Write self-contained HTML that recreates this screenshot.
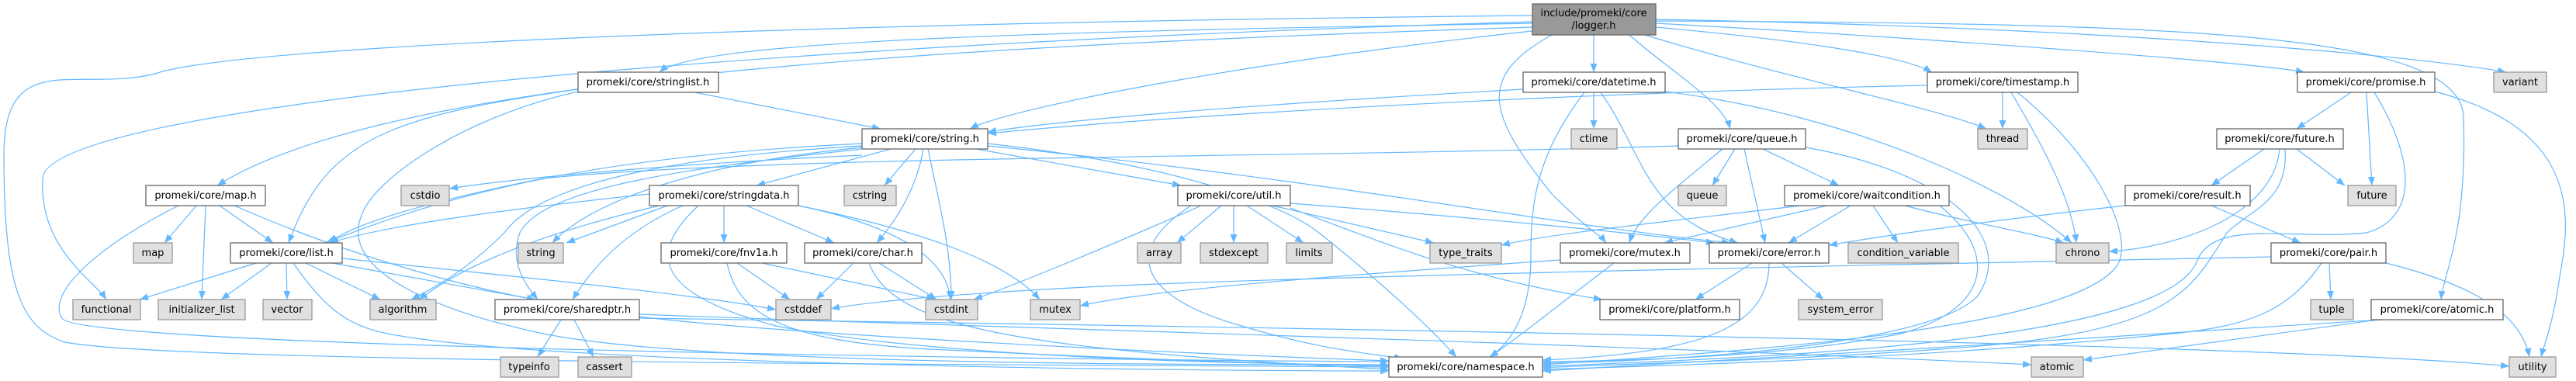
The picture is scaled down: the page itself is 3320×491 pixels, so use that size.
<!DOCTYPE html>
<html><head><meta charset="utf-8"><style>
html,body{margin:0;padding:0;background:#fff}
svg{display:block}
text{font-family:"DejaVu Sans","Liberation Sans",sans-serif;font-size:13px;fill:#000}
.n{fill:#fff;stroke:#666;stroke-width:1.3}
.g{fill:#e0e0e0;stroke:#999;stroke-width:1.3}
.r{fill:#999;stroke:#666;stroke-width:1.3}
path.e{fill:none;stroke:#63b8ff;stroke-width:1.2;marker-end:url(#a)}
</style></head><body>
<svg width="3320" height="491" viewBox="0 0 3320 491" xmlns="http://www.w3.org/2000/svg">
<defs><marker id="a" markerUnits="userSpaceOnUse" markerWidth="12" markerHeight="10" refX="11" refY="4.5" orient="auto"><path d="M0,0 L11,4.5 L0,9 z" fill="#63b8ff"/></marker></defs>
<g>
<path class="e" d="M2054,45 L2054,93"/>
<path class="e" d="M1975,30 C1400,40 900,50 850,93"/>
<path class="e" d="M1975,35 C1200,60 500,100 280,239"/>
<path class="e" d="M1975,28 C900,60 60,140 55,230 C50,320 120,360 137,386"/>
<path class="e" d="M1975,20 C1000,30 300,60 200,95 C100,120 5,60 5,200 C5,380 30,420 80,440 C200,470 1500,470 1790,473"/>
<path class="e" d="M1975,40 C1600,80 1300,140 1250,166"/>
<path class="e" d="M2100,45 C2150,90 2220,130 2230,166"/>
<path class="e" d="M2000,45 C1900,100 1920,150 2000,250 C2050,300 2060,300 2070,313"/>
<path class="e" d="M2120,45 C2300,100 2500,140 2560,166"/>
<path class="e" d="M2134,35 C2300,50 2450,70 2490,93"/>
<path class="e" d="M2134,30 C2500,50 2900,80 2970,93"/>
<path class="e" d="M2134,25 C2700,35 3100,70 3230,93"/>
<path class="e" d="M2134,27 C2800,30 3170,40 3175,150 C3180,300 3150,350 3146,386"/>

<path class="e" d="M895,119 L1135,166"/>
<path class="e" d="M745,115 C500,150 420,180 372,313"/>
<path class="e" d="M745,118 C600,150 480,230 465,280 C440,350 560,400 700,430 C900,470 1500,470 1790,470"/>

<path class="e" d="M253,265 L212,313"/>
<path class="e" d="M265,265 L260,386"/>
<path class="e" d="M283,265 L352,313"/>
<path class="e" d="M302,265 C450,330 600,370 690,386"/>
<path class="e" d="M230,265 C120,320 60,380 80,410 C100,450 1500,465 1790,466"/>

<path class="e" d="M330,339 L180,386"/>
<path class="e" d="M350,339 L285,386"/>
<path class="e" d="M369,339 L370,386"/>
<path class="e" d="M394,339 L490,386"/>
<path class="e" d="M428,339 L690,386"/>
<path class="e" d="M441,333 C700,360 900,380 1000,399"/>
<path class="e" d="M378,339 C420,400 450,420 500,430 C700,470 1500,478 1790,478"/>

<path class="e" d="M1111,200 C900,210 700,225 579,243"/>
<path class="e" d="M1111,185 C800,200 600,240 420,313"/>
<path class="e" d="M1111,190 C900,210 760,260 712,313"/>
<path class="e" d="M1111,188 C900,200 700,230 650,300 C600,350 560,370 530,386"/>
<path class="e" d="M1111,192 C900,215 700,240 670,300 C655,340 680,370 693,386"/>
<path class="e" d="M1148,192 L975,239"/>
<path class="e" d="M1180,192 L1140,239"/>
<path class="e" d="M1190,192 C1180,250 1150,290 1130,313"/>
<path class="e" d="M1196,192 C1210,260 1226,320 1226,386"/>
<path class="e" d="M1258,192 L1522,239"/>
<path class="e" d="M1273,185 C1500,210 1650,260 1700,300 C1800,380 1850,430 1877,460"/>
<path class="e" d="M1273,188 C1700,230 2000,290 2230,313"/>

<path class="e" d="M837,250 C650,270 500,290 425,313"/>
<path class="e" d="M860,265 L730,313"/>
<path class="e" d="M880,265 C800,300 760,350 738,386"/>
<path class="e" d="M933,265 L933,313"/>
<path class="e" d="M962,265 L1075,313"/>
<path class="e" d="M1029,265 C1150,290 1220,330 1225,386"/>
<path class="e" d="M1029,265 C1200,300 1300,340 1340,386"/>
<path class="e" d="M900,265 C830,330 850,380 1000,420 C1200,460 1600,470 1790,470"/>
<path class="e" d="M850,265 C700,300 600,340 540,386"/>

<path class="e" d="M950,339 L1018,386"/>
<path class="e" d="M982,339 L1205,386"/>
<path class="e" d="M937,339 C950,400 1000,440 1200,450 C1500,465 1700,470 1790,472"/>

<path class="e" d="M1100,339 L1052,386"/>
<path class="e" d="M1133,339 L1207,386"/>
<path class="e" d="M1120,339 C1150,420 1300,450 1790,476"/>

<path class="e" d="M723,412 L693,460"/>
<path class="e" d="M740,412 L765,460"/>
<path class="e" d="M824,405 C1200,420 2000,440 2618,470"/>
<path class="e" d="M824,408 C1000,430 1500,455 1790,465"/>
<path class="e" d="M824,410 C1500,420 2900,440 3234,472"/>

<path class="e" d="M1574,265 L1517,313"/>
<path class="e" d="M1590,265 L1590,313"/>
<path class="e" d="M1607,265 L1680,313"/>
<path class="e" d="M1640,265 L1848,313"/>
<path class="e" d="M1548,265 C1400,330 1300,370 1255,386"/>
<path class="e" d="M1535,265 C1450,320 1460,380 1600,420 C1700,450 1760,455 1808,462"/>
<path class="e" d="M1663,268 C1800,320 1900,360 2065,386"/>
<path class="e" d="M1663,262 C1900,280 2100,300 2210,313"/>

<path class="e" d="M1963,115 C1700,130 1400,150 1273,170"/>
<path class="e" d="M2054,119 L2054,166"/>
<path class="e" d="M2042,119 C1980,200 1973,260 1973,330 C1973,400 1950,440 1920,460"/>
<path class="e" d="M2063,119 C2120,200 2120,280 2240,313"/>
<path class="e" d="M2146,118 C2400,150 2600,250 2670,313"/>

<path class="e" d="M2163,188 C1600,205 1000,200 700,230 C550,260 450,290 425,313"/>
<path class="e" d="M2236,192 L2207,239"/>
<path class="e" d="M2220,192 C2150,250 2110,280 2100,313"/>
<path class="e" d="M2248,192 L2275,313"/>
<path class="e" d="M2272,192 L2370,239"/>
<path class="e" d="M2327,190 C2500,220 2600,300 2550,380 C2500,440 2200,465 1988,468"/>

<path class="e" d="M2320,265 C2200,280 2000,300 1935,316"/>
<path class="e" d="M2355,265 L2145,313"/>
<path class="e" d="M2385,265 L2305,313"/>
<path class="e" d="M2414,265 L2446,313"/>
<path class="e" d="M2455,265 C2550,290 2620,300 2660,313"/>
<path class="e" d="M2500,265 C2580,330 2560,400 2450,430 C2300,460 2100,465 1988,466"/>

<path class="e" d="M2011,335 C1800,350 1500,370 1392,394"/>
<path class="e" d="M2080,339 C2000,400 1950,440 1920,460"/>

<path class="e" d="M2258,339 L2185,386"/>
<path class="e" d="M2296,339 L2350,386"/>
<path class="e" d="M2280,339 C2280,420 2200,455 1988,464"/>

<path class="e" d="M2484,110 C2000,120 1500,150 1273,172"/>
<path class="e" d="M2581,119 L2581,166"/>
<path class="e" d="M2592,119 C2640,200 2670,260 2676,313"/>
<path class="e" d="M2600,119 C2700,200 2750,300 2730,340 C2680,420 2300,450 1988,470"/>

<path class="e" d="M3030,119 L2960,166"/>
<path class="e" d="M3050,119 L3057,239"/>
<path class="e" d="M3060,119 C3110,200 3120,280 3050,300 C2950,310 2850,280 2830,340 C2780,440 2300,460 1988,472"/>
<path class="e" d="M3138,118 C3300,160 3320,250 3300,350 C3290,420 3280,440 3275,460"/>

<path class="e" d="M2918,192 L2850,239"/>
<path class="e" d="M2960,192 L3022,239"/>
<path class="e" d="M2938,192 C2930,280 2800,320 2718,324"/>
<path class="e" d="M2945,192 C2950,260 2900,270 2870,300 C2820,380 2800,430 2500,450 C2300,465 2100,468 1988,474"/>

<path class="e" d="M2739,265 C2600,280 2450,300 2357,316"/>
<path class="e" d="M2850,265 L2965,313"/>

<path class="e" d="M2927,331 C2500,340 1700,355 1400,370 C1200,380 1100,392 1071,398"/>
<path class="e" d="M3002,339 L3004,386"/>
<path class="e" d="M3075,339 C3200,370 3250,410 3260,460"/>
<path class="e" d="M2992,339 C2950,400 2900,420 2800,430 C2500,460 2200,470 1988,476"/>

<path class="e" d="M3065,412 L2685,464"/>
<path class="e" d="M3070,412 C2800,430 2300,460 1988,478"/>
</g>
<g>
<rect class="r" x="1975" y="5" width="159" height="40"/><text x="2054" y="21" text-anchor="middle">include/promeki/core</text><text x="2054" y="37" text-anchor="middle">/logger.h</text>
<rect class="n" x="745" y="93" width="181" height="26"/><text x="835" y="110" text-anchor="middle">promeki/core/stringlist.h</text>
<rect class="n" x="1963" y="93" width="183" height="26"/><text x="2054" y="110" text-anchor="middle">promeki/core/datetime.h</text>
<rect class="n" x="2484" y="93" width="194" height="26"/><text x="2581" y="110" text-anchor="middle">promeki/core/timestamp.h</text>
<rect class="n" x="2961" y="93" width="177" height="26"/><text x="3049" y="110" text-anchor="middle">promeki/core/promise.h</text>
<rect class="g" x="3214" y="93" width="68" height="26"/><text x="3248" y="110" text-anchor="middle">variant</text>
<rect class="n" x="1111" y="166" width="162" height="26"/><text x="1192" y="183" text-anchor="middle">promeki/core/string.h</text>
<rect class="g" x="2025" y="166" width="59" height="26"/><text x="2054" y="183" text-anchor="middle">ctime</text>
<rect class="n" x="2163" y="166" width="164" height="26"/><text x="2245" y="183" text-anchor="middle">promeki/core/queue.h</text>
<rect class="g" x="2549" y="166" width="64" height="26"/><text x="2581" y="183" text-anchor="middle">thread</text>
<rect class="n" x="2857" y="166" width="163" height="26"/><text x="2938" y="183" text-anchor="middle">promeki/core/future.h</text>
<rect class="n" x="188" y="239" width="154" height="26"/><text x="265" y="256" text-anchor="middle">promeki/core/map.h</text>
<rect class="g" x="517" y="239" width="62" height="26"/><text x="548" y="256" text-anchor="middle">cstdio</text>
<rect class="n" x="837" y="239" width="192" height="26"/><text x="933" y="256" text-anchor="middle">promeki/core/stringdata.h</text>
<rect class="g" x="1088" y="239" width="67" height="26"/><text x="1121" y="256" text-anchor="middle">cstring</text>
<rect class="n" x="1518" y="239" width="145" height="26"/><text x="1590" y="256" text-anchor="middle">promeki/core/util.h</text>
<rect class="g" x="2163" y="239" width="62" height="26"/><text x="2194" y="256" text-anchor="middle">queue</text>
<rect class="n" x="2300" y="239" width="212" height="26"/><text x="2406" y="256" text-anchor="middle">promeki/core/waitcondition.h</text>
<rect class="n" x="2739" y="239" width="161" height="26"/><text x="2819" y="256" text-anchor="middle">promeki/core/result.h</text>
<rect class="g" x="3026" y="239" width="62" height="26"/><text x="3057" y="256" text-anchor="middle">future</text>
<rect class="g" x="172" y="313" width="50" height="26"/><text x="197" y="330" text-anchor="middle">map</text>
<rect class="n" x="297" y="313" width="144" height="26"/><text x="369" y="330" text-anchor="middle">promeki/core/list.h</text>
<rect class="g" x="668" y="313" width="58" height="26"/><text x="697" y="330" text-anchor="middle">string</text>
<rect class="n" x="852" y="313" width="162" height="26"/><text x="933" y="330" text-anchor="middle">promeki/core/fnv1a.h</text>
<rect class="n" x="1037" y="313" width="151" height="26"/><text x="1112" y="330" text-anchor="middle">promeki/core/char.h</text>
<rect class="g" x="1466" y="313" width="56" height="26"/><text x="1494" y="330" text-anchor="middle">array</text>
<rect class="g" x="1547" y="313" width="87" height="26"/><text x="1590" y="330" text-anchor="middle">stdexcept</text>
<rect class="g" x="1658" y="313" width="59" height="26"/><text x="1687" y="330" text-anchor="middle">limits</text>
<rect class="g" x="1843" y="313" width="92" height="26"/><text x="1889" y="330" text-anchor="middle">type_traits</text>
<rect class="n" x="2011" y="313" width="167" height="26"/><text x="2094" y="330" text-anchor="middle">promeki/core/mutex.h</text>
<rect class="n" x="2203" y="313" width="154" height="26"/><text x="2280" y="330" text-anchor="middle">promeki/core/error.h</text>
<rect class="g" x="2382" y="313" width="142" height="26"/><text x="2453" y="330" text-anchor="middle">condition_variable</text>
<rect class="g" x="2650" y="313" width="68" height="26"/><text x="2684" y="330" text-anchor="middle">chrono</text>
<rect class="n" x="2927" y="313" width="148" height="26"/><text x="3001" y="330" text-anchor="middle">promeki/core/pair.h</text>
<rect class="g" x="94" y="386" width="87" height="26"/><text x="137" y="403" text-anchor="middle">functional</text>
<rect class="g" x="204" y="386" width="112" height="26"/><text x="260" y="403" text-anchor="middle">initializer_list</text>
<rect class="g" x="339" y="386" width="63" height="26"/><text x="370" y="403" text-anchor="middle">vector</text>
<rect class="g" x="477" y="386" width="85" height="26"/><text x="519" y="403" text-anchor="middle">algorithm</text>
<rect class="n" x="638" y="386" width="186" height="26"/><text x="731" y="403" text-anchor="middle">promeki/core/sharedptr.h</text>
<rect class="g" x="1000" y="386" width="71" height="26"/><text x="1035" y="403" text-anchor="middle">cstddef</text>
<rect class="g" x="1193" y="386" width="67" height="26"/><text x="1226" y="403" text-anchor="middle">cstdint</text>
<rect class="g" x="1328" y="386" width="64" height="26"/><text x="1360" y="403" text-anchor="middle">mutex</text>
<rect class="n" x="2062" y="386" width="180" height="26"/><text x="2152" y="403" text-anchor="middle">promeki/core/platform.h</text>
<rect class="g" x="2318" y="386" width="108" height="26"/><text x="2372" y="403" text-anchor="middle">system_error</text>
<rect class="g" x="2978" y="386" width="55" height="26"/><text x="3005" y="403" text-anchor="middle">tuple</text>
<rect class="n" x="3056" y="386" width="170" height="26"/><text x="3141" y="403" text-anchor="middle">promeki/core/atomic.h</text>
<rect class="g" x="645" y="460" width="75" height="26"/><text x="682" y="477" text-anchor="middle">typeinfo</text>
<rect class="g" x="745" y="460" width="69" height="26"/><text x="779" y="477" text-anchor="middle">cassert</text>
<rect class="n" x="1790" y="460" width="198" height="26"/><text x="1889" y="477" text-anchor="middle">promeki/core/namespace.h</text>
<rect class="g" x="2618" y="460" width="67" height="26"/><text x="2651" y="477" text-anchor="middle">atomic</text>
<rect class="g" x="3234" y="460" width="60" height="26"/><text x="3264" y="477" text-anchor="middle">utility</text>
</g>
</svg>
</body></html>
